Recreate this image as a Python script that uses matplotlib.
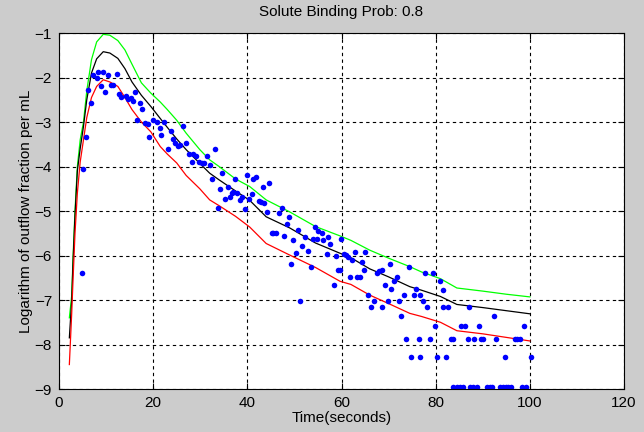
import numpy as np
import matplotlib
matplotlib.use("Agg")
import matplotlib.pyplot as plt

plt.rcParams['font.family'] = ['Liberation Sans', 'DejaVu Sans']

# model curves (shared time axis)
t_model = [2.2, 2.7, 3.0, 3.4, 3.9, 4.5, 5.2, 5.9, 6.9, 8.0, 9.4, 10.8, 12.5, 14.0,
           15.5, 17.5, 19.5, 21.5, 23.0, 25.0, 27.0, 29.9, 32.0, 34.0, 37.5, 40.5,
           44.0, 49.0, 54.5, 59.7, 62.0, 66.0, 70.0, 74.5, 77.0, 81.0, 84.5, 90.0,
           95.0, 100.0]
upper = [-7.4, -6.9, -6.0, -5.0, -4.0, -3.4, -3.0, -2.3, -1.6, -1.2, -1.03, -1.05,
         -1.17, -1.38, -1.7, -2.12, -2.35, -2.55, -2.72, -2.96, -3.25, -3.62, -3.85,
         -4.0, -4.28, -4.45, -4.75, -5.02, -5.35, -5.56, -5.66, -5.88, -6.06, -6.25,
         -6.37, -6.52, -6.73, -6.80, -6.87, -6.93]
middle = [-7.85, -7.0, -6.1, -5.1, -4.1, -3.6, -3.1, -2.5, -1.9, -1.58, -1.42, -1.45,
          -1.57, -1.8, -2.1, -2.4, -2.65, -2.92, -3.12, -3.38, -3.62, -3.93, -4.15,
          -4.3, -4.55, -4.76, -5.13, -5.38, -5.72, -5.95, -6.05, -6.3, -6.48, -6.7,
          -6.78, -6.92, -7.1, -7.17, -7.24, -7.31]
lower = [-8.45, -7.3, -6.5, -5.5, -4.6, -3.9, -3.4, -2.9, -2.45, -2.2, -2.05, -2.1,
         -2.2, -2.45, -2.72, -3.0, -3.22, -3.55, -3.72, -3.92, -4.2, -4.5, -4.75,
         -4.88, -5.12, -5.36, -5.73, -5.99, -6.27, -6.58, -6.65, -6.89, -7.08, -7.3,
         -7.37, -7.5, -7.69, -7.76, -7.84, -7.92]

# measured points
t_obs = [4.8, 5.1, 5.7, 6.2, 6.7, 7.3, 8.1, 8.35, 9.3, 8.9, 9.8, 10.5, 11.0, 11.5,
         12.25, 12.7, 13.2, 14.2, 14.7, 15.3, 15.65, 16.1, 17.1, 17.6, 16.6, 18.3,
         18.8, 19.2, 20.0, 20.75, 21.45, 22.3, 21.7, 23.2, 23.7, 24.3, 24.6, 25.3,
         25.8, 26.4, 27.0, 27.7, 28.2, 28.5, 29.2, 29.8, 30.3, 30.9, 31.4, 32.1,
         33.1, 32.6, 33.8, 34.2, 34.7, 35.3, 35.8, 36.3, 36.7, 37.0, 37.4, 37.9,
         38.4, 38.8, 39.4, 39.9, 40.4, 40.9, 41.3, 41.8, 42.4, 43.0, 43.5, 43.4,
         44.7, 44.2, 45.2, 45.5, 46.1, 46.8, 47.3, 47.8, 48.4, 48.9, 49.2, 49.6,
         50.3, 50.8, 51.2, 51.7, 52.2, 52.8, 53.5, 53.9, 54.4, 54.9, 55.1, 55.8,
         56.1, 56.9, 57.2, 57.6, 58.3, 58.8, 59.3, 59.7, 59.9, 60.5, 61.0, 61.4,
         61.7, 62.2, 62.9, 63.2, 63.9, 64.3, 64.8, 65.0, 65.7, 66.2, 66.8, 67.5,
         68.0, 68.5, 68.7, 69.2, 69.9, 70.4, 70.6, 71.2, 71.7, 72.3, 72.6, 73.3,
         73.8, 74.3, 74.8, 75.3, 75.8, 76.5, 76.7, 76.7, 77.2, 77.7, 78.2, 78.7,
         79.4, 79.9, 80.2, 80.9, 81.5, 81.6, 82.2, 82.7, 83.2, 83.7, 83.7, 84.5,
         85.2, 85.9, 85.3, 86.2, 86.9, 87.1, 87.3, 88.0, 88.7, 88.1, 89.3, 89.6,
         90.1, 90.8, 91.5, 91.9, 92.4, 92.8, 93.7, 94.4, 95.0, 95.4, 95.9, 94.7,
         96.9, 97.3, 97.9, 98.3, 99.2, 98.8, 100.3]
y_obs = [-6.40, -4.06, -3.33, -2.27, -2.58, -1.94, -2.00, -1.87, -1.87, -2.19, -2.32,
         -1.94, -2.17, -2.17, -1.91, -2.36, -2.43, -2.42, -2.49, -2.45, -2.52, -2.32,
         -2.58, -2.71, -2.96, -3.03, -3.04, -3.34, -2.96, -2.99, -3.14, -2.99, -3.29,
         -3.61, -3.20, -3.39, -3.48, -3.55, -3.52, -3.09, -3.48, -3.72, -3.89, -3.72,
         -3.76, -3.89, -3.91, -3.93, -3.76, -3.97, -3.61, -4.27, -4.94, -4.51, -4.15,
         -4.74, -4.47, -4.68, -4.60, -4.57, -4.27, -4.59, -4.75, -4.68, -4.96, -4.19,
         -4.74, -4.62, -4.29, -4.24, -4.78, -4.79, -4.81, -4.45, -4.36, -5.02, -5.49,
         -5.49, -5.49, -5.04, -4.94, -5.56, -5.29, -5.14, -6.18, -5.65, -5.95, -5.43,
         -7.02, -5.79, -5.59, -5.89, -6.25, -5.64, -5.37, -5.64, -5.46, -5.49, -5.65,
         -5.97, -5.59, -5.74, -6.66, -6.01, -6.33, -6.33, -5.64, -5.97, -5.99, -6.03,
         -6.48, -6.09, -5.91, -6.48, -6.48, -6.14, -6.33, -5.91, -6.89, -7.16, -7.02,
         -6.40, -6.34, -6.33, -7.16, -6.66, -7.02, -6.18, -6.76, -6.57, -6.49, -7.02,
         -7.36, -6.89, -7.88, -6.25, -8.27, -6.89, -6.76, -7.88, -6.89, -8.27, -7.02,
         -6.40, -7.16, -7.88, -6.40, -7.58, -8.27, -6.57, -7.16, -6.78, -8.27, -7.16,
         -7.88, -7.88, -8.95, -8.95, -8.95, -8.95, -7.58, -7.58, -7.88, -7.16, -8.95,
         -8.95, -8.95, -7.88, -7.58, -7.88, -7.88, -8.95, -8.95, -8.95, -7.36, -7.88,
         -8.95, -8.95, -8.95, -8.95, -8.95, -8.27, -7.88, -7.88, -7.88, -8.95, -8.95,
         -7.58, -8.27]

fig = plt.figure(figsize=(6.44, 4.32), dpi=100, facecolor='#cccccc')
ax = fig.add_axes([0.0916, 0.0995, 0.8774, 0.8241])
ax.set_facecolor('white')

ax.plot(t_model, upper, color='#00ff00', lw=0.9)
ax.plot(t_model, middle, color='black', lw=0.9)
ax.plot(t_model, lower, color='#ff0000', lw=0.9)
ax.plot(t_obs, y_obs, 'o', color='#0000ff', ms=4, mec='none')

ax.set_xlim(0, 120)
ax.set_ylim(-9, -1)
ax.set_xticks(np.arange(0, 121, 20))
ax.set_yticks(np.arange(-9, -0.5, 1))
ax.grid(True, color='black', linestyle=(0, (3, 3)), linewidth=0.8)
ax.tick_params(direction='in', top=True, right=True, length=4, labelsize=11, pad=5)
for s in ax.spines.values():
    s.set_linewidth(0.8)

ax.set_title('Solute Binding Prob: 0.8', fontsize=11, pad=12)
ax.set_xlabel('Time(seconds)', fontsize=11, labelpad=1)
ax.set_ylabel('Logarithm of outflow fraction per mL', fontsize=11, labelpad=1)

fig.savefig('out.png', dpi=100, facecolor=fig.get_facecolor())
